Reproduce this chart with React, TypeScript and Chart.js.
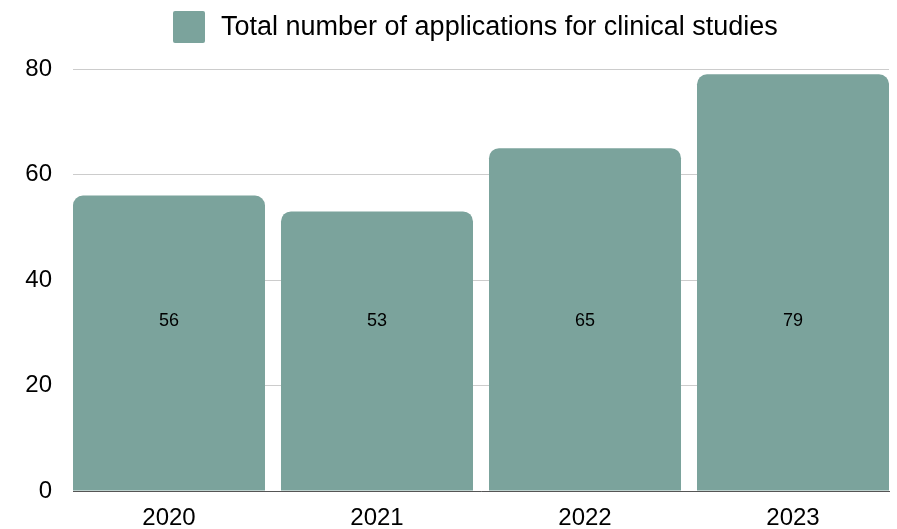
import { useEffect, useRef } from "react";
import { Chart, registerables } from "chart.js";

Chart.register(...registerables);

const years = ["2020", "2021", "2022", "2023"];
const applications = [56, 53, 65, 79];
const seriesLabel = "Total number of applications for clinical studies";
const yMin = 0;
const yMax = 80;
const yStep = 20;

const BAR_COLOR = "#7ba39c";
const FONT = '"Liberation Sans", Arial, Helvetica, sans-serif';

export default function App() {
  const ref = useRef<HTMLCanvasElement>(null);

  useEffect(() => {
    if (!ref.current) return;

    const legendPlugin = {
      id: "customLegend",
      afterDraw(chart: any) {
        const ctx = chart.ctx;
        const ds = chart.data.datasets[0];
        ctx.save();
        ctx.font = `27px ${FONT}`;
        const tw = ctx.measureText(ds.label).width;
        const box = 32;
        const gap = 16;
        const total = box + gap + tw;
        const { left, right } = chart.chartArea;
        const cx = (left + right) / 2 - 6;
        const x0 = Math.round(cx - total / 2);
        const y0 = 11;
        ctx.fillStyle = ds.backgroundColor;
        ctx.beginPath();
        ctx.roundRect(x0, y0, box, box, 2);
        ctx.fill();
        ctx.fillStyle = "#000";
        ctx.textAlign = "left";
        ctx.textBaseline = "middle";
        ctx.fillText(ds.label, x0 + box + gap, y0 + box / 2 + 1);
        ctx.restore();
      },
    };

    const valuePlugin = {
      id: "valueLabels",
      afterDatasetsDraw(chart: any) {
        const ctx = chart.ctx;
        const meta = chart.getDatasetMeta(0);
        const { top, bottom } = chart.chartArea;
        const y = bottom - (bottom - top) * 0.402;
        ctx.save();
        ctx.font = `18px ${FONT}`;
        ctx.fillStyle = "#000";
        ctx.textAlign = "center";
        ctx.textBaseline = "middle";
        meta.data.forEach((bar: any, i: number) => {
          ctx.fillText(String(applications[i]), bar.x, y);
        });
        ctx.restore();
      },
    };

    const chart = new Chart(ref.current, {
      type: "bar",
      data: {
        datasets: [
          {
            label: seriesLabel,
            data: applications.map((v, i) => ({ x: i, y: v })),
            backgroundColor: BAR_COLOR,
            borderRadius: 10,
            borderSkipped: "bottom",
            barPercentage: 192 / 208,
            categoryPercentage: 1,
          },
        ],
      },
      options: {
        animation: false,
        responsive: true,
        maintainAspectRatio: false,
        layout: { padding: { top: 69, right: 8, left: 0, bottom: 0 } },
        plugins: {
          legend: { display: false },
          tooltip: { enabled: false },
        },
        scales: {
          x: {
            type: "linear",
            offset: false,
            min: -0.4615,
            max: years.length - 1 + 0.4615,
            afterBuildTicks: (scale: any) => {
              scale.ticks = years.map((_, i) => ({ value: i }));
            },
            afterFit: (scale: any) => {
              scale.height = 38;
            },
            grid: { display: false, offset: false },
            border: { display: true, color: "#555555", width: 1 },
            ticks: {
              autoSkip: false,
              maxRotation: 0,
              padding: 5,
              color: "#000",
              font: { family: FONT, size: 24 },
              callback: (v: any) => years[Math.round(Number(v))] ?? "",
            },
          },
          y: {
            min: yMin,
            max: yMax,
            afterFit: (scale: any) => {
              scale.width = 73;
            },
            grid: { color: "#cccccc", lineWidth: 1, drawTicks: false },
            border: { display: false },
            ticks: {
              stepSize: yStep,
              padding: 21,
              color: "#000",
              font: { family: FONT, size: 24 },
            },
          },
        },
      },
      plugins: [legendPlugin, valuePlugin],
    });

    return () => chart.destroy();
  }, []);

  return (
    <div style={{ position: "absolute", left: 0, top: 0, width: 897, height: 529 }}>
      <canvas ref={ref} />
    </div>
  );
}
